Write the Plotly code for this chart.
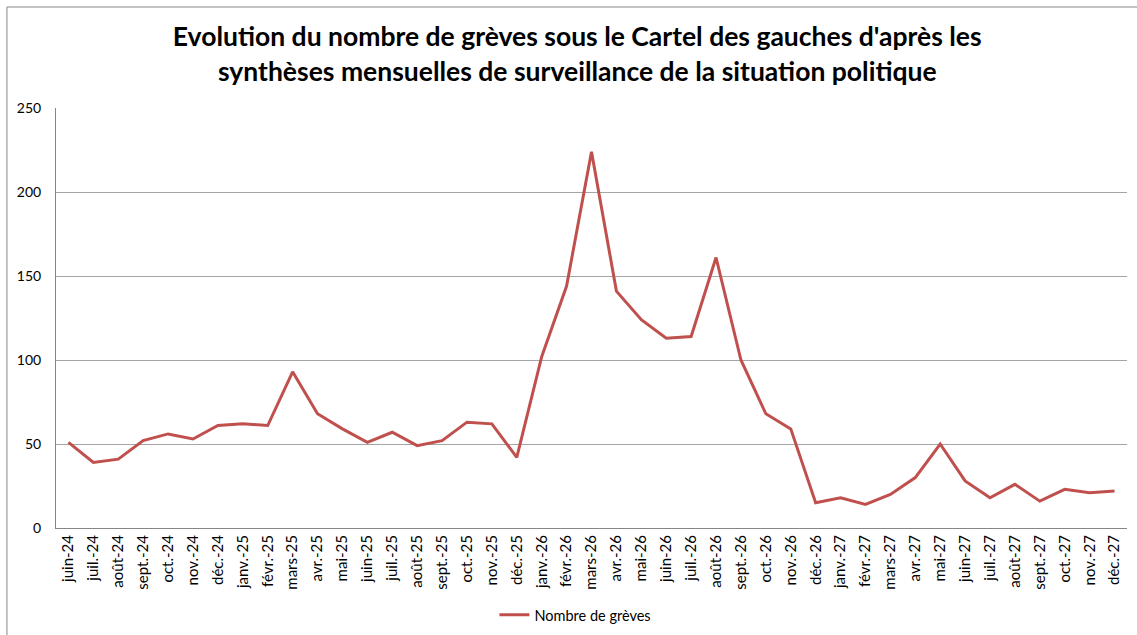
import plotly.graph_objects as go

# Monthly strike counts, June 1924 - December 1927
months = [
    "juin-24", "juil.-24", "août-24", "sept.-24", "oct.-24", "nov.-24", "déc.-24",
    "janv.-25", "févr.-25", "mars-25", "avr.-25", "mai-25", "juin-25", "juil.-25",
    "août-25", "sept.-25", "oct.-25", "nov.-25", "déc.-25",
    "janv.-26", "févr.-26", "mars-26", "avr.-26", "mai-26", "juin-26", "juil.-26",
    "août-26", "sept.-26", "oct.-26", "nov.-26", "déc.-26",
    "janv.-27", "févr.-27", "mars-27", "avr.-27", "mai-27", "juin-27", "juil.-27",
    "août-27", "sept.-27", "oct.-27", "nov.-27", "déc.-27",
]
greves = [
    51, 39, 41, 52, 56, 53, 61,
    62, 61, 93, 68, 59, 51, 57,
    49, 52, 63, 62, 42,
    102, 144, 224, 141, 124, 113, 114,
    161, 100, 68, 59, 15,
    18, 14, 20, 30, 50, 28, 18,
    26, 16, 23, 21, 22,
]
y_ticks = [0, 50, 100, 150, 200, 250]

title_text = ("Evolution du nombre de grèves sous le Cartel des gauches d'après les<br>"
              "synthèses mensuelles de surveillance de la situation politique")

FONT = "Lato, 'Open Sans', sans-serif"
AXIS = "#868686"
GRID = "#A6A6A6"

fig = go.Figure()
fig.add_trace(go.Scatter(
    x=months, y=greves, mode="lines", name="Nombre de grèves",
    line=dict(color="#C0504D", width=3),
))

fig.update_layout(
    width=1137, height=635,
    paper_bgcolor="white", plot_bgcolor="white",
    margin=dict(l=56, r=10, t=108, b=107, autoexpand=False),
    font=dict(family=FONT, size=14, color="#000000"),
    title=dict(text=title_text, x=0.5077, xanchor="center",
               yref="container", y=0.927, yanchor="middle",
               font=dict(family=FONT, size=26.5, color="#000000", weight="bold")),
    showlegend=True,
    legend=dict(orientation="h", x=0.485, xanchor="center", y=-0.207, yanchor="middle",
                font=dict(family=FONT, size=14.5), itemwidth=30),
    xaxis=dict(
        type="category", range=[-0.5, len(months) - 0.5], automargin=False,
        tickangle=-90, showgrid=False, showline=True, linecolor=AXIS, linewidth=1,
        ticks="", tickfont=dict(family=FONT, size=15),
    ),
    yaxis=dict(
        range=[0, 250], tickvals=y_ticks, showgrid=True, gridcolor=GRID, gridwidth=1,
        showline=True, linecolor=AXIS, linewidth=1, zeroline=False, automargin=False,
        ticks="", ticklabelstandoff=11, tickfont=dict(family=FONT, size=14),
    ),
    shapes=[dict(
        type="rect", xref="paper", yref="paper",
        x0=-0.0458, x1=1.05, y0=-0.3, y1=1.2405,
        line=dict(color=AXIS, width=1), fillcolor="rgba(0,0,0,0)", layer="below",
    )],
)

fig.write_html("out.html")
